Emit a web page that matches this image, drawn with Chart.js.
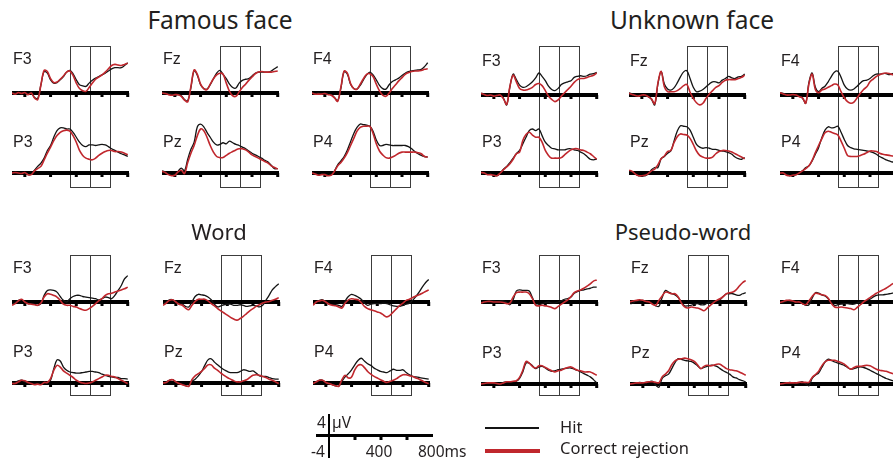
<!DOCTYPE html>
<html>
<head>
<meta charset="utf-8">
<script src="https://cdn.jsdelivr.net/npm/chart.js@4.4.1/dist/chart.umd.min.js"></script>
<style>
  html, body { margin: 0; padding: 0; background: #fff; }
  body { width: 893px; height: 460px; position: relative; overflow: hidden; }
  canvas { position: absolute; }
  .t { position: absolute; white-space: nowrap; line-height: 1; color: #231f20; }
  .rule { position: absolute; }
</style>
</head>
<body>
<script>
// time axis (ms) shared by every trace
const TIMES = [-100, -75, -50, -25, 0, 25, 50, 75, 100, 125, 150, 175, 200, 225, 250, 275, 300, 325, 350, 375, 400, 425, 450, 475, 500, 525, 550, 575, 600, 625, 650, 675, 700, 725, 750, 775, 800]
const WINDOWS_MS = [350, 505, 660]
const TICKS_MS = [0, 200, 400, 600, 800]
const F_SITES = ["F3", "Fz", "F4"]
const P_SITES = ["P3", "Pz", "P4"]
const TITLES = ["Famous face", "Unknown face", "Word", "Pseudo-word"]
const LEGEND = ["Hit", "Correct rejection"]

// ---- Famous face (µV) ----
const famousF3Hit = [0,0,0,0,0, -0.2,0.1,-0.8,-1.0, 1.5,3.9,3.6,2.4, 1.8,1.9,2.4,3.0, 3.8,4.1,3.5,2.4, 1.5,1.3,1.2,1.8, 2.3,2.7,3.0,3.3, 3.6,4.0,4.4,4.6, 4.6,4.6,5.0,5.5]
const famousF3Cr = [0,-0.2,0.1,-0.1,0.1, -0.3,0,-0.9,-1.2, 1.5,4.1,3.9,2.6, 1.9,2.0,2.5,3.1, 3.8,4.0,3.2,1.8, 0.8,0.4,0.3,1.0, 1.8,2.5,2.9,3.3, 3.8,4.4,5.0,5.2, 5.1,5.0,5.2,5.4]
const famousFzHit = [0,0,-0.1,-0.2,-0.4, -0.3,-0.5,-1.2,-1.4, 1.0,4.1,3.2,1.5, 0.8,0.7,1.5,2.6, 3.6,4.1,3.4,2.6, 1.6,1.0,0.9,1.8, 2.3,2.5,2.6,3.1, 3.6,3.8,3.8,3.8, 3.8,4.0,4.4,4.8]
const famousFzCr = [0,-0.1,-0.3,-0.4,-0.3, -0.3,-0.6,-1.3,-1.6, 1.2,4.2,3.4,1.6, 0.8,0.6,1.6,2.6, 3.3,3.6,3.4,1.8, 0.3,-0.5,-0.6,0.2, 1.0,1.6,2.3,2.9, 3.5,3.8,3.9,3.8, 3.8,3.8,3.9,4.0]
const famousF4Hit = [0,-0.1,0,-0.2,0, -0.2,-0.3,-0.8,-1.4, 0.9,3.9,3.4,1.6, 0.8,0.7,1.4,2.4, 3.3,3.8,3.3,2.4, 1.4,0.8,0.7,1.5, 2.1,2.4,2.7,3.2, 3.6,3.9,4.0,4.1, 4.2,4.3,4.8,5.5]
const famousF4Cr = [0,-0.2,-0.2,-0.2,-0.1, -0.3,-0.4,-0.9,-1.5, 1.1,4.0,3.6,1.7, 0.8,0.7,1.6,2.6, 3.4,3.5,3.0,1.6, 0.4,-0.4,-0.6,0, 0.8,1.5,2.2,2.8, 3.4,3.7,3.9,4.0, 4.0,4.1,4.3,4.4]
const famousP3Hit = [0,0,-0.2,0,0, -0.3,-0.2,0.5,1.2, 1.8,2.7,4.1,5.0, 6.5,7.7,8.2,8.2, 8.0,8.0,7.4,6.5, 5.6,5.0,4.8,5.1, 5.1,5.0,5.1,5.2, 5.1,4.8,4.4,4.1, 3.8,3.5,3.3,3.0]
const famousP3Cr = [0,0.1,0,-0.1,0.1, -0.3,-0.3,0.4,0.8, 1.2,2.4,3.6,4.7, 5.9,6.8,7.4,7.7, 7.8,7.6,6.8,5.6, 4.1,3.2,2.7,2.5, 2.4,2.7,3.2,3.6, 3.9,4.1,4.1,3.9, 3.9,3.8,3.6,3.3]
const famousPzHit = [0.4,0.2,-0.2,-0.4,-0.3, 0.3,0.9,0.4,2.5, 4.3,5.6,8.4,8.9, 8.4,7.4,6.5,5.6, 5.1,5.2,5.5,5.3, 5.8,5.5,5.2,5.0, 4.7,4.4,4.0,3.6, 3.3,3.0,2.7,2.3, 2.0,1.4,0.8,0.8]
const famousPzCr = [0.3,0.1,-0.3,-0.5,-0.4, 0.2,0.5,-0.1,1.9, 3.6,5.0,6.8,8.0, 7.7,6.5,5.0,3.8, 3.0,2.8,2.8,3.2, 3.6,3.9,4.2,4.4, 4.4,4.2,3.8,3.3, 3.0,2.7,2.4,2.1, 1.8,1.3,1.0,0.7]
const famousP4Hit = [0,-0.1,-0.3,-0.2,-0.2, -0.4,-0.3,0.4,1.5, 2.2,3.0,4.2,5.7, 7.2,8.3,8.9,8.8, 8.7,8.5,7.6,6.0, 5.0,5.0,5.2,5.1, 5.0,5.0,5.0,5.0, 5.0,4.8,4.4,3.9, 3.5,3.2,3.0,2.9]
const famousP4Cr = [0,-0.2,-0.4,-0.3,-0.3, -0.5,-0.4,0.3,1.3, 1.9,2.7,3.7,5.0, 6.3,7.6,8.3,8.5, 8.5,8.5,7.2,5.3, 4.0,3.3,2.8,2.7, 2.9,3.2,3.6,3.8, 3.8,3.8,3.8,3.8, 3.7,3.5,3.0,2.9]

// ---- Unknown face ----
const unknownF3Hit = [0.3,0.2,0,0,-0.1, 0,0,-0.6,-1.8, 1.5,3.8,2.8,1.8, 1.4,1.5,1.9,2.4, 3.1,4.0,3.4,2.6, 1.6,1.0,0.8,1.2, 1.9,2.2,2.4,2.6, 3.2,3.4,3.5,3.4, 3.5,3.8,3.9,4.1]
const unknownF3Cr = [0.3,0.1,-0.1,0,-0.2, -0.1,0,-0.7,-1.7, 1.6,3.6,2.4,1.2, 0.9,0.9,1.1,1.4, 1.9,2.1,1.7,0.8, -0.2,-0.8,-1.2,-0.9, -0.2,0.4,1.0,1.6, 2.3,2.8,3.0,3.0, 3.2,3.4,3.6,4.0]
const unknownFzHit = [0.4,0.2,0,-0.2,-0.1, -0.1,-0.3,-0.8,-1.8, 2.0,4.3,2.0,1.1, 0.9,1.3,2.2,3.3, 4.2,4.4,3.0,1.4, 0.6,0.7,1.0,1.5, 2.0,2.4,2.4,2.2, 2.7,3.0,3.4,3.1, 3.0,3.3,3.4,3.8]
const unknownFzCr = [0.3,0.1,-0.1,-0.2,0, 0,-0.3,-0.7,-1.6, 2.2,4.3,1.5,0.6, 0.6,0.6,0.8,1.2, 1.7,1.9,0.5,-0.6, -1.4,-1.8,-1.5,-0.6, 0.2,0.8,1.4,1.7, 2.3,2.7,2.8,2.8, 2.8,3.0,3.2,3.6]
const unknownF4Hit = [0.4,0.3,0.1,0,0, -0.1,-0.2,-0.6,-1.5, 2.3,4.0,1.4,0.6, 1.2,1.6,2.4,3.4, 4.2,4.3,3.2,1.8, 1.1,0.9,1.1,1.6, 2.2,2.6,2.7,3.0, 3.5,3.8,3.8,3.9, 3.9,3.7,3.9,4.0]
const unknownF4Cr = [0.4,0.2,0,0,0.1, 0,-0.3,-0.5,-1.5, 2.0,3.8,1.0,0.4, 0.9,1.1,1.4,1.7, 2.0,1.8,0.6,-0.5, -1.2,-1.5,-1.3,-0.5, 0.3,1.0,1.5,2.4, 2.9,3.4,3.7,3.9, 4.0,3.9,3.7,3.8]
const unknownP3Hit = [0.1,0,-0.2,-0.2,-0.4, -0.5,0,0.7,1.2, 1.9,2.7,3.5,4.1, 5.3,6.5,7.7,8.0, 7.7,8.0,6.8,5.6, 5.0,4.5,4.4,4.2, 4.2,4.2,4.4,4.4, 4.2,4.1,3.8,3.5, 3.0,2.5,2.4,2.5]
const unknownP3Cr = [0.1,0,-0.3,-0.3,-0.4, -0.5,0,0.6,1.1, 1.7,2.5,3.5,3.8, 5.9,7.0,7.4,6.9, 6.5,6.5,5.6,4.1, 3.2,2.7,2.7,2.7, 2.8,3.3,3.8,4.2, 4.4,4.4,4.2,4.1, 3.8,3.5,3.0,2.5]
const unknownPzHit = [0.4,0.2,-0.2,-0.5,-0.5, -0.5,-0.2,0.6,1.0, 1.0,2.6,3.0,3.6, 4.0,5.8,7.6,8.6, 8.5,8.4,7.8,6.5, 5.2,4.7,4.5,4.6, 4.5,4.3,4.3,4.1, 4.0,3.9,3.7,3.4, 2.9,2.6,2.5,2.8]
const unknownPzCr = [0.5,0.3,-0.2,-0.5,-0.5, -0.4,-0.1,0.4,0.7, 1.5,2.6,3.1,3.9, 4.1,5.5,6.6,7.1, 7.0,6.9,6.3,5.2, 4.0,3.2,2.9,2.7, 2.7,2.9,3.5,3.9, 4.1,4.1,4.0,3.8, 3.5,3.2,2.9,2.6]
const unknownP4Hit = [0,0,-0.3,-0.5,-0.4, -0.3,0.1,0.4,1.0, 1.3,2.2,3.4,4.6, 6.4,7.8,8.4,8.2, 8.3,8.5,7.4,6.1, 5.0,4.6,4.4,4.3, 4.2,4.1,4.0,3.9, 3.7,3.4,3.0,2.7, 2.4,2.2,2.0,2.0]
const unknownP4Cr = [0,0,-0.4,-0.5,-0.4, -0.3,0,0.4,0.8, 1.3,2.3,3.7,5.0, 6.2,7.3,7.6,7.4, 7.2,6.9,5.8,4.5, 3.2,3.0,3.0,3.0, 3.2,3.4,3.7,4.0, 4.0,3.9,3.6,3.4, 3.3,3.2,3.1,3.0]

// ---- Word ----
const wordF3Hit = [-0.4,-0.1,0.3,0.4,0, -0.3,-0.3,-0.4,-0.6, -0.3,1.2,2.1,2.2, 2.1,1.8,1.0,0.3, 0,0.6,1.0,1.2, 1.2,1.0,0.9,0.8, 0.7,0.6,0.4,0.6, 0.9,0.8,0.6,1.2, 2.1,3.0,4.2,4.8]
const wordF3Cr = [-0.6,-0.3,0.2,0.5,0, -0.3,-0.4,-0.5,-0.6, -0.2,0.9,1.5,1.4, 1.2,0.9,0.3,-0.4, -0.6,-0.6,-0.8,-0.9, -1.2,-1.4,-1.5,-1.2, -0.8,-0.3,0.2,0.6, 1.2,1.5,1.6,1.8, 2.0,2.2,2.4,2.7]
const wordFzHit = [-0.3,0,0.4,0.4,0, -0.3,-0.4,-0.8,-0.9, 0,1.0,1.4,1.3, 1.2,0.9,0.4,-0.4, -0.9,-0.7,-0.5,-0.4, -0.4,-0.6,-0.6,-0.5, -0.6,-0.8,-0.7,-0.6, -0.7,-0.9,-0.6,0.3, 1.2,2.2,2.8,3.3]
const wordFzCr = [-0.6,-0.2,0.3,0.4,0, -0.4,-0.6,-1.1,-1.4, -0.6,0.1,0.5,0.5, 0.5,0.2,-0.3,-0.7, -1.2,-1.6,-2.0,-2.4, -2.8,-3.1,-3.3,-3.0, -2.6,-2.1,-1.6,-1.2, -0.8,-0.5,-0.2,0, 0.1,0.3,0.5,0.8]
const wordF4Hit = [-0.5,0,0.3,0.4,0, -0.4,-0.5,-0.5,-0.6, -0.8,0.2,1.0,1.4, 1.2,0.9,0.5,-0.2, -0.6,-0.4,-0.3,-0.3, -0.3,-0.2,-0.3,-0.5, -0.7,-0.8,-0.8,-0.6, -0.4,-0.2,0.3,1.0, 1.8,2.7,3.5,4.1]
const wordF4Cr = [-0.6,0,0.2,0.3,0, -0.4,-0.6,-0.7,-0.9, -1.1,-0.2,0.4,0.6, 0.5,0.4,-0.1,-0.8, -1.2,-1.4,-1.6,-1.8, -2.0,-2.4,-2.7,-2.4, -1.8,-1.2,-0.6,-0.2, 0.3,0.5,0.8,1.1, 1.3,1.6,1.9,2.2]
const wordP3Hit = [0,0.1,0.4,0.5,0.2, 0,-0.1,-0.2,-0.1, -0.2,0,0.1,0.5, 2.6,4.2,4.0,2.9, 2.3,2.0,1.9,1.8, 1.8,1.9,2.0,2.1, 2.1,2.0,1.9,1.6, 1.4,1.2,1.1,1.0, 1.0,0.8,0.8,0.7]
const wordP3Cr = [-0.1,-0.1,0.2,0.5,0.4, 0.1,-0.1,-0.3,-0.2, -0.3,0.1,0.1,0.8, 2.3,3.2,2.9,2.2, 1.8,1.4,1.0,0.5, 0.2,0,-0.1,0, 0.2,0.5,0.8,1.1, 1.4,1.4,1.2,1.1, 0.8,0.5,0.2,-0.1]
const wordPzHit = [0,0.2,0.5,0.6,0.2, -0.1,-0.2,-0.5,-0.6, 0.3,0.7,1.3,2.1, 3.2,4.2,4.4,3.8, 3.3,2.8,2.4,2.1, 1.9,1.9,1.9,2.1, 2.4,2.3,2.1,2.2, 1.8,1.3,1.2,1.2, 1.0,0.8,0.7,0.7]
const wordPzCr = [0,0.1,0.5,0.6,0.2, -0.1,-0.3,-0.5,-0.6, 0.6,1.3,1.7,2.1, 2.7,3.3,3.3,2.7, 2.3,1.8,1.4,1.0, 0.7,0.4,0.2,0.2, 0.4,0.6,1.0,1.4, 1.5,1.4,1.2,1.0, 0.7,0.5,0.2,-0.1]
const wordP4Hit = [-0.1,0.2,0.5,0.5,0.1, -0.1,-0.3,-0.5,-0.6, 0.3,1.1,1.7,2.4, 3.3,4.1,4.5,4.0, 3.5,3.2,2.7,2.4, 2.1,2.0,1.9,2.2, 2.5,2.3,2.3,2.4, 1.9,1.5,1.2,1.1, 1.0,0.9,0.8,0.7]
const wordP4Cr = [-0.1,0.2,0.5,0.5,0.1, -0.1,-0.3,-0.5,-0.6, 0.6,1.4,0.9,1.1, 2.4,3.2,3.3,2.8, 2.1,1.6,1.2,0.9, 0.6,0.3,0.1,0.3, 0.5,0.8,1.2,1.5, 1.5,1.3,1.2,0.9, 0.7,0.4,0.1,-0.1]

// ---- Pseudo-word ----
const pseudoF3Hit = [-0.2,0.1,0.2,0.2,0.2, 0.1,0.2,0.2,-0.1, -0.5,0.4,2.0,2.2, 2.1,2.1,2.0,0.8, -0.5,-0.5,-0.3,-0.1, 0,-0.2,-0.2,0, 0.2,0.5,0.6,0.9, 1.6,1.9,2.1,2.2, 2.4,2.5,2.7,2.7]
const pseudoF3Cr = [-0.2,0,0.1,0.1,0, 0,0,-0.1,-0.3, -0.2,0.9,1.7,1.8, 1.8,1.8,1.5,0.6, -0.6,-0.7,-0.6,-0.7, -0.8,-1.0,-1.2,-0.8, -0.4,0,0.4,1.0, 1.7,2.0,2.2,2.5, 2.9,3.3,3.8,4.0]
const pseudoFzHit = [-0.3,-0.2,0.2,0.2,0.3, 0.1,0,-0.3,-0.7, -0.8,0.8,2.1,1.8, 1.5,1.3,0.8,0, -0.7,-0.7,-0.6,-0.4, -0.3,-0.5,-0.5,-0.2, 0,0.1,0.2,0.4, 1.0,1.5,1.5,1.5, 1.3,1.2,1.5,1.7]
const pseudoFzCr = [0,0.2,0.3,0.4,0.3, 0.1,0,-0.4,-0.6, 0.3,1.1,1.8,1.7, 1.5,1.5,0.9,-0.2, -0.9,-1.1,-0.9,-1.0, -1.1,-1.3,-1.6,-1.1, -0.6,-0.1,0.3,0.6, 1.0,1.5,1.7,1.8, 2.2,2.9,3.5,3.9]
const pseudoF4Hit = [-0.2,-0.1,0.2,0.3,0.2, 0,0,-0.3,-0.6, -0.5,0.7,1.7,1.6, 1.3,1.1,0.6,-0.1, -0.6,-0.5,-0.4,-0.3, -0.3,-0.4,-0.4,-0.2, 0,0.1,0.3,0.5, 0.9,1.2,1.3,1.3, 1.4,1.5,1.6,1.8]
const pseudoF4Cr = [-0.1,0.1,0.3,0.3,0.2, 0,0,-0.3,-0.5, 0.2,1.0,1.6,1.5, 1.3,1.2,0.7,-0.3, -0.9,-1.0,-0.9,-1.0, -1.1,-1.2,-1.4,-1.0, -0.5,0,0.4,0.8, 1.2,1.6,1.9,2.2, 2.5,2.9,3.3,3.6]
const pseudoP3Hit = [0.1,0.1,0.2,0.2,0.1, 0,-0.1,0.3,0.4, 0.4,0.4,0.5,1.0, 2.2,3.8,3.8,3.3, 2.8,3.1,3.2,2.9, 2.5,2.3,2.4,2.6, 2.7,2.8,2.9,2.9, 2.7,2.5,2.2,1.9, 1.6,1.3,0.8,0.2]
const pseudoP3Cr = [0,0.1,0.2,0.2,0.2, 0.1,0,0.2,0.4, 0.4,0.5,0.6,1.2, 2.5,4.1,3.8,3.2, 2.9,3.3,3.3,3.0, 2.7,2.4,2.2,2.4, 2.5,2.8,3.0,3.1, 2.8,2.5,2.4,2.2, 2.2,2.2,1.9,1.6]
const pseudoPzHit = [0,0,0.2,0.3,0.2, 0.3,0.4,0.5,-0.2, -0.6,1.0,1.5,1.8, 2.8,3.9,4.6,4.5, 4.3,4.2,4.1,3.8, 3.3,2.8,3.0,3.2, 3.4,3.4,3.2,2.8, 2.4,2.1,1.8,1.3, 1.1,0.8,0.6,0.4]
const pseudoPzCr = [0,0.1,0.2,0.2,0.2, 0.3,0.4,0.4,0.3, 0.2,1.3,1.8,2.4, 3.5,4.2,4.5,4.6, 4.7,4.6,4.4,4.1, 3.5,2.8,3.2,3.4, 3.3,3.4,3.6,3.6, 3.2,2.8,2.6,2.5, 2.4,2.2,1.9,1.6]
const pseudoP4Hit = [0,0,0.2,0.3,0.2, 0.2,0.3,0.4,0, -0.3,1.0,1.6,2.0, 3.0,4.0,4.5,4.3, 4.0,3.8,3.6,3.4, 3.0,2.7,2.8,3.0, 3.1,3.0,2.8,2.5, 2.2,1.9,1.6,1.3, 1.0,0.8,0.6,0.4]
const pseudoP4Cr = [0,0.1,0.2,0.2,0.2, 0.2,0.3,0.3,0.3, 0.3,1.2,1.7,2.3, 3.3,4.0,4.3,4.3, 4.3,4.1,3.9,3.6, 3.1,2.7,3.0,3.2, 3.2,3.3,3.4,3.3, 3.0,2.7,2.5,2.4, 2.3,2.1,1.9,1.7]

// [hit, correct rejection] per condition and site
const SERIES = {
  famous: { F3: [famousF3Hit, famousF3Cr], Fz: [famousFzHit, famousFzCr], F4: [famousF4Hit, famousF4Cr],
            P3: [famousP3Hit, famousP3Cr], Pz: [famousPzHit, famousPzCr], P4: [famousP4Hit, famousP4Cr] },
  unknown: { F3: [unknownF3Hit, unknownF3Cr], Fz: [unknownFzHit, unknownFzCr], F4: [unknownF4Hit, unknownF4Cr],
             P3: [unknownP3Hit, unknownP3Cr], Pz: [unknownPzHit, unknownPzCr], P4: [unknownP4Hit, unknownP4Cr] },
  word: { F3: [wordF3Hit, wordF3Cr], Fz: [wordFzHit, wordFzCr], F4: [wordF4Hit, wordF4Cr],
          P3: [wordP3Hit, wordP3Cr], Pz: [wordPzHit, wordPzCr], P4: [wordP4Hit, wordP4Cr] },
  pseudo: { F3: [pseudoF3Hit, pseudoF3Cr], Fz: [pseudoFzHit, pseudoFzCr], F4: [pseudoF4Hit, pseudoF4Cr],
            P3: [pseudoP3Hit, pseudoP3Cr], Pz: [pseudoPzHit, pseudoPzCr], P4: [pseudoP4Hit, pseudoP4Cr] },
}

const BLACK = "#141414"
const RED = "#c0272d"
const PANEL_W = 117
const UV_PX = 5.5
const X_MIN = -100
const X_MAX = 810

// layout of the four blocks (pixels)
const BLOCKS = [
  { cond: "famous", xs: [12, 162, 312], fy: 93, py: 173, top: 46, bottom: 188, title: 0, tx: 220, ty: 12, ts: 24.5 },
  { cond: "unknown", xs: [481, 629, 780], fy: 95, py: 173, top: 46, bottom: 188, title: 1, tx: 692, ty: 12, ts: 24.5 },
  { cond: "word", xs: [12, 163, 313], fy: 302, py: 383, top: 255, bottom: 396, title: 2, tx: 219, ty: 224, ts: 22 },
  { cond: "pseudo", xs: [481, 630, 780], fy: 302, py: 384, top: 255, bottom: 396, title: 3, tx: 683, ty: 224, ts: 22 },
]

function addText(str, x, capTop, size, family, center) {
  const d = document.createElement("div")
  d.className = "t"
  d.textContent = str
  d.style.fontSize = size + "px"
  d.style.fontFamily = family
  const k = family.indexOf("Liberation") >= 0 ? 0.13 : 0.17
  d.style.top = capTop - size * k + "px"
  d.style.left = x + "px"
  if (center) d.style.transform = "translateX(-50%)"
  document.body.appendChild(d)
}

function addRule(x, y, w, h, color) {
  const d = document.createElement("div")
  d.className = "rule"
  d.style.left = x + "px"
  d.style.top = y + "px"
  d.style.width = w + "px"
  d.style.height = h + "px"
  d.style.background = color
  document.body.appendChild(d)
}

function toXY(values) {
  return values.map((v, i) => ({ x: TIMES[i], y: v }))
}

function trace(values, color, width, axis) {
  return {
    data: toXY(values),
    borderColor: color,
    borderWidth: width,
    yAxisID: axis,
    pointRadius: 0,
    tension: 0.35,
    fill: false,
  }
}

// baselines with tick squares, and the two analysis windows
const erpFrame = {
  id: "erpFrame",
  beforeDatasetsDraw(chart, args, opts) {
    const { ctx, chartArea, scales } = chart
    const x = scales.x
    ctx.save()
    if (opts.windows) {
      ctx.strokeStyle = "#3c3c3c"
      ctx.lineWidth = 1
      const xs = WINDOWS_MS.map((t) => Math.round(x.getPixelForValue(t)) + 0.5)
      const top = chartArea.top + 0.5
      const bottom = chartArea.bottom - 0.5
      ctx.strokeRect(xs[0], top, xs[1] - xs[0], bottom - top)
      ctx.strokeRect(xs[1], top, xs[2] - xs[1], bottom - top)
    }
    ctx.fillStyle = "#000"
    for (const id of opts.baselines) {
      const y0 = Math.round(scales[id].getPixelForValue(0))
      const xl = x.getPixelForValue(opts.from)
      const xr = x.getPixelForValue(opts.to)
      ctx.fillRect(xl, y0 - 2, xr - xl, opts.thick)
      for (const t of opts.ticks) {
        const tx = x.getPixelForValue(t)
        ctx.fillRect(tx - 1.5, y0, 3, 4)
      }
    }
    ctx.restore()
  },
}

function makePanel(block, col) {
  const pad = 6
  const c = document.createElement("canvas")
  const areaH = block.bottom - block.top
  c.width = PANEL_W + pad * 2
  c.height = areaH + pad * 2
  c.style.left = block.xs[col] - pad + "px"
  c.style.top = block.top - pad + "px"
  document.body.appendChild(c)

  const fMax = (block.fy - block.top) / UV_PX
  const pMax = (block.py - block.top) / UV_PX
  const span = areaH / UV_PX
  const s = SERIES[block.cond]
  const f = s[F_SITES[col]]
  const p = s[P_SITES[col]]

  new Chart(c, {
    type: "line",
    data: {
      datasets: [
        trace(f[1], RED, 1.6, "yF"),
        trace(f[0], BLACK, 1.3, "yF"),
        trace(p[1], RED, 1.6, "yP"),
        trace(p[0], BLACK, 1.3, "yP"),
      ],
    },
    options: {
      responsive: false,
      animation: false,
      layout: { padding: pad },
      plugins: {
        legend: { display: false },
        tooltip: { enabled: false },
        erpFrame: { windows: true, baselines: ["yF", "yP"], from: X_MIN, to: X_MAX, ticks: TICKS_MS, thick: 4 },
      },
      scales: {
        x: { type: "linear", min: X_MIN, max: X_MAX, display: false },
        yF: { type: "linear", min: fMax - span, max: fMax, display: false },
        yP: { type: "linear", min: pMax - span, max: pMax, display: false },
      },
    },
    plugins: [erpFrame],
  })

  const x0 = block.xs[col]
  addText(F_SITES[col], x0 + 1, block.fy - 40, 16, "Liberation Sans")
  addText(P_SITES[col], x0 + 1, block.py - 37, 16, "Liberation Sans")
}

for (const block of BLOCKS) {
  for (let col = 0; col < 3; col++) makePanel(block, col)
  addText(TITLES[block.title], block.tx, block.ty, block.ts, "Noto Sans", true)
}

// scale bar: 0..800 ms and ±4 µV
;(function scaleBar() {
  const c = document.createElement("canvas")
  c.width = 140
  c.height = 60
  c.style.left = "306px"
  c.style.top = "405px"
  document.body.appendChild(c)
  new Chart(c, {
    type: "line",
    data: {
      datasets: [
        { data: [{ x: 0, y: -4 }, { x: 0, y: 4 }], borderColor: "#000", borderWidth: 2, pointRadius: 0 },
      ],
    },
    options: {
      responsive: false,
      animation: false,
      layout: { padding: { left: 10, right: 13, top: 9, bottom: 7 } },
      plugins: {
        legend: { display: false },
        tooltip: { enabled: false },
        erpFrame: { windows: false, baselines: ["y"], from: -100, to: 800, ticks: [200, 400, 600], thick: 3 },
      },
      scales: {
        x: { type: "linear", min: -100, max: 800, display: false },
        y: { type: "linear", min: -4, max: 4, display: false },
      },
    },
    plugins: [erpFrame],
  })
  addText("4", 317, 418, 15.5, "Noto Sans")
  addText("µV", 332, 418, 15.5, "Noto Sans")
  addText("-4", 311, 447, 15.5, "Noto Sans")
  addText("400", 379, 447, 15.5, "Noto Sans", true)
  addText("800ms", 418, 447, 15.5, "Noto Sans")
})()

// legend
addRule(485, 427, 54, 1.5, BLACK)
addRule(485, 449, 55, 3.5, RED)
addText(LEGEND[0], 560, 422, 16.5, "Noto Sans")
addText(LEGEND[1], 560, 443, 16.5, "Noto Sans")
</script>
</body>
</html>
